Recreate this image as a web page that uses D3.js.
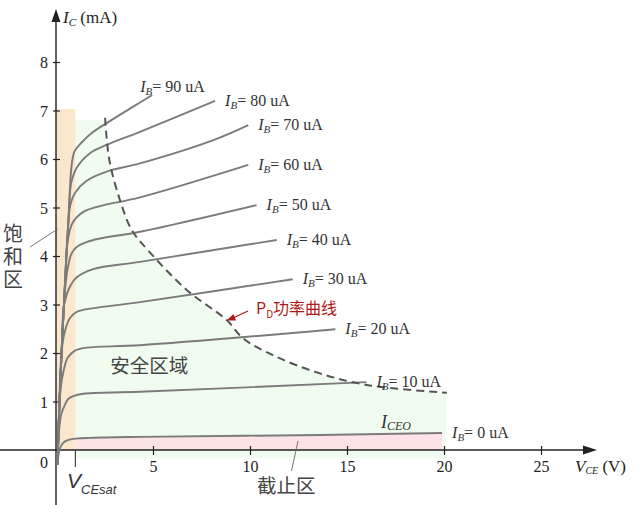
<!DOCTYPE html>
<html><head><meta charset="utf-8">
<script src="https://cdn.jsdelivr.net/npm/d3@7"></script>
<style>body{margin:0;background:#fff}svg{display:block}</style>
</head><body><svg id="c" width="635" height="505"></svg>
<script>
// ---- data (V_CE in volts, I_C in mA) ----
const xTicks = [5, 10, 15, 20, 25];
const yTicks = [1, 2, 3, 4, 5, 6, 7, 8];
const ibNames = ["0", "10", "20", "30", "40", "50", "60", "70", "80", "90"];
const ib0  = [[0.07,-0.31],[0.13,-0.1],[0.21,0.04],[0.36,0.14],[0.57,0.2],[0.89,0.23],[1.75,0.25],[4.33,0.27],[13.6,0.31],[19.9,0.35]];
const ib10 = [[0.07,-0.31],[0.1,0],[0.17,0.45],[0.28,0.75],[0.46,0.93],[0.62,1.05],[0.89,1.11],[1.41,1.16],[4.33,1.2],[16.0,1.4]];
const ib20 = [[0.07,-0.31],[0.1,0],[0.15,0.66],[0.25,1.3],[0.39,1.63],[0.6,1.9],[0.98,2.05],[1.58,2.11],[4.33,2.16],[14.4,2.49]];
const ib30 = [[0.07,-0.31],[0.1,0],[0.15,0.66],[0.29,2.03],[0.46,2.45],[0.72,2.72],[1.03,2.84],[1.41,2.89],[4.33,3.05],[12.2,3.52]];
const ib40 = [[0.07,-0.31],[0.1,0],[0.15,0.66],[0.29,2.03],[0.42,3.0],[0.72,3.37],[1.07,3.56],[1.92,3.73],[4.33,3.88],[11.38,4.33]];
const ib50 = [[0.07,-0.31],[0.1,0],[0.15,0.66],[0.29,2.03],[0.5,3.45],[0.64,3.82],[0.8,4.05],[1.05,4.18],[1.6,4.29],[2.27,4.36],[4.33,4.5],[10.34,5.05]];
const ib60 = [[0.07,-0.31],[0.1,0],[0.15,0.66],[0.29,2.03],[0.46,3.4],[0.6,4.3],[0.85,4.68],[1.41,4.91],[2.27,5.03],[4.33,5.21],[9.91,5.88]];
const ib70 = [[0.07,-0.31],[0.1,0],[0.15,0.66],[0.29,2.03],[0.46,3.4],[0.62,4.6],[0.75,5.07],[0.98,5.3],[1.58,5.55],[2.61,5.74],[4.33,5.91],[8.11,6.39],[9.91,6.7]];
const ib80 = [[0.07,-0.31],[0.1,0],[0.15,0.66],[0.29,2.03],[0.46,3.4],[0.64,4.7],[0.78,5.5],[1.07,5.82],[1.75,6.12],[2.61,6.29],[4.33,6.56],[8.2,7.2]];
const ib90 = [[0.07,-0.31],[0.1,0],[0.15,0.66],[0.29,2.03],[0.46,3.4],[0.66,4.9],[0.8,5.85],[0.95,6.15],[1.3,6.33],[1.92,6.56],[2.61,6.74],[3.98,7.08],[4.96,7.32]];
const pdCurve = [[2.53,6.85],[2.75,5.98],[3.3,5.15],[3.9,4.54],[4.74,4.12],[6.74,3.3],[8.8,2.68],[9.65,2.3],[11.37,1.92],[13.6,1.58],[16.03,1.34],[20.15,1.18]];
const vceSat = 1;          // V
const satTop = 7.03;       // mA
const safeTop = 6.8;       // mA
const safeRight = 20.1;    // V
const safeBottom = -0.17;  // mA

const curves = [ib0, ib10, ib20, ib30, ib40, ib50, ib60, ib70, ib80, ib90];

// ---- drawing ----
const svg = d3.select("#c");
const x = d3.scaleLinear().domain([0, 25]).range([56, 541]);
const y = d3.scaleLinear().domain([0, 8]).range([450, 62]);
const serif = "'Liberation Serif','Times New Roman',serif";
const cjk = "'Noto Sans CJK SC','Noto Sans',sans-serif";
const smooth = d3.curveCatmullRom.alpha(0.5);

const line = d3.line().x(d => x(d[0])).y(d => y(d[1])).curve(smooth);

// safe area (green)
const pdPath = line(pdCurve).replace(/^M/, "L");
const safeD = `M${x(vceSat)},${y(safeTop)}L${x(pdCurve[0][0]) - 2},${y(safeTop)}` + pdPath +
  `L${x(safeRight)},${y(pdCurve[pdCurve.length-1][1])}L${x(safeRight)},${y(safeBottom)}L${x(vceSat)},${y(safeBottom)}Z`;
svg.append("path").attr("d", safeD).attr("fill", "#f1fcf0");

// saturation region (orange)
svg.append("rect").attr("x", x(0)).attr("y", y(satTop))
  .attr("width", x(vceSat) - x(0)).attr("height", y(0) - y(satTop)).attr("fill", "#fbe7cc");

// cutoff region (pink) under I_B = 0 curve
const ib0Cut = ib0.filter(d => d[0] >= vceSat);
const pinkData = [[vceSat, 0.23]].concat(ib0Cut);
svg.append("path")
  .attr("d", d3.area().x(d => x(d[0])).y0(y(0)).y1(d => y(d[1])).curve(d3.curveMonotoneX)(pinkData))
  .attr("fill", "#fde3e5");

// axes ticks via d3 axes
const gx = svg.append("g").attr("transform", `translate(0,${y(0)})`)
  .call(d3.axisBottom(x).tickValues(xTicks).tickSize(5).tickPadding(6));
gx.attr("font-family", serif).attr("font-size", 16);
gx.select(".domain").remove();
gx.selectAll(".tick line").attr("y1", -4).attr("y2", 5).attr("stroke", "#222").attr("stroke-width", 1.2);
gx.selectAll(".tick text").attr("fill", "#222");

const gy = svg.append("g").attr("transform", `translate(${x(0)},0)`)
  .call(d3.axisLeft(y).tickValues(yTicks).tickSize(3).tickPadding(5));
gy.attr("font-family", serif).attr("font-size", 16);
gy.select(".domain").remove();
gy.selectAll(".tick line").attr("x1", -3).attr("x2", 4).attr("stroke", "#222").attr("stroke-width", 1.2);
gy.selectAll(".tick text").attr("fill", "#222").attr("dy", "0.36em");

// origin label
svg.append("text").attr("x", x(0) - 12).attr("y", y(0) + 18).attr("text-anchor", "middle")
  .attr("font-family", serif).attr("font-size", 16).attr("fill", "#222").text("0");

// axis lines + arrows
svg.append("line").attr("x1", 0).attr("x2", 588).attr("y1", y(0)).attr("y2", y(0)).attr("stroke", "#222").attr("stroke-width", 1.4);
svg.append("path").attr("d", `M597,${y(0)}L583,${y(0)-4.5}L583,${y(0)+4.5}Z`).attr("fill", "#222");
svg.append("line").attr("x1", x(0)).attr("x2", x(0)).attr("y1", 505).attr("y2", 18).attr("stroke", "#222").attr("stroke-width", 1.4);
svg.append("path").attr("d", `M${x(0)},9L${x(0)-4.5},22L${x(0)+4.5},22Z`).attr("fill", "#222");

// V_CEsat tick
svg.append("line").attr("x1", x(vceSat)).attr("x2", x(vceSat)).attr("y1", y(0)).attr("y2", y(0) + 17)
  .attr("stroke", "#444").attr("stroke-width", 1.2);

// characteristic curves
svg.append("g").selectAll("path").data(curves).join("path")
  .attr("d", line).attr("fill", "none").attr("stroke", "#7b7b7b").attr("stroke-width", 1.9);

// power dissipation dashed curve
svg.append("path").attr("d", line(pdCurve)).attr("fill", "none").attr("stroke", "#555")
  .attr("stroke-width", 2).attr("stroke-dasharray", "8,5");

// IB labels
curves.forEach((c, i) => {
  const e = c[c.length - 1];
  let lx = x(e[0]) + 10, ly = y(e[1]) + 5;
  if (i === curves.length - 1) { lx = x(e[0]) - 12; ly = y(e[1]) - 3; }
  const t = svg.append("text").attr("x", lx).attr("y", ly).attr("font-family", serif)
    .attr("font-size", 16).attr("fill", "#333");
  t.append("tspan").attr("font-style", "italic").text("I");
  t.append("tspan").attr("font-style", "italic").attr("font-size", 11).attr("dy", 3).text("B");
  t.append("tspan").attr("dy", -3).text("= " + ibNames[i] + " uA");
});

// I_CEO label
{
  const t = svg.append("text").attr("x", 381).attr("y", 428).attr("font-family", serif).attr("fill", "#333");
  t.append("tspan").attr("font-style", "italic").attr("font-size", 18).text("I");
  t.append("tspan").attr("font-style", "italic").attr("font-size", 12).attr("dy", 2).text("CEO");
}

// axis titles
{
  const t = svg.append("text").attr("x", 63).attr("y", 23).attr("font-family", serif).attr("font-size", 17).attr("fill", "#222");
  t.append("tspan").attr("font-style", "italic").text("I");
  t.append("tspan").attr("font-style", "italic").attr("font-size", 11).attr("dy", 3).text("C");
  t.append("tspan").attr("dy", -3).text(" (mA)");
  const v = svg.append("text").attr("x", 575).attr("y", 472).attr("font-family", serif).attr("font-size", 17).attr("fill", "#222");
  v.append("tspan").attr("font-style", "italic").text("V");
  v.append("tspan").attr("font-style", "italic").attr("font-size", 10).attr("dy", 2).text("CE");
  v.append("tspan").attr("dy", -2).text(" (V)");
}

// V_CEsat label
{
  const t = svg.append("text").attr("x", 67).attr("y", 488).attr("font-family", "'Liberation Sans',sans-serif").attr("fill", "#333");
  t.append("tspan").attr("font-style", "italic").attr("font-size", 21).text("V");
  t.append("tspan").attr("font-style", "italic").attr("font-size", 13).attr("dy", 6).text("CEsat");
}

// Chinese region labels (vertical)
svg.append("text").attr("x", 13).attr("y", 223).attr("font-family", cjk).attr("font-size", 20)
  .attr("fill", "#444").style("writing-mode", "vertical-rl").attr("letter-spacing", 3).text("饱和区");
svg.append("line").attr("x1", 30).attr("y1", 247).attr("x2", x(0.1)).attr("y2", y(4.56))
  .attr("stroke", "#666").attr("stroke-width", 0.9);

svg.append("text").attr("x", x(2.8)).attr("y", 373).attr("font-family", cjk)
  .attr("font-size", 19.5).attr("fill", "#444").text("安全区域");

svg.append("text").attr("x", 257).attr("y", 493).attr("font-family", cjk)
  .attr("font-size", 19.5).attr("fill", "#444").text("截止区");
svg.append("line").attr("x1", 291.5).attr("y1", 471).attr("x2", 298).attr("y2", 441)
  .attr("stroke", "#666").attr("stroke-width", 0.9);

// PD label + arrow
{
  const red = "#b01818";
  const t = svg.append("text").attr("x", 256).attr("y", 314).attr("font-family", cjk).attr("fill", red).attr("font-size", 16);
  t.append("tspan").text("P");
  t.append("tspan").attr("font-size", 10).attr("dy", 4).text("D");
  t.append("tspan").attr("dy", -4).text("功率曲线");
  svg.append("line").attr("x1", 248).attr("y1", 311).attr("x2", 233).attr("y2", 318)
    .attr("stroke", red).attr("stroke-width", 1.3);
  svg.append("path").attr("d", "M226.5,320.5L233.5,314L236,320.5Z").attr("fill", red);
}
</script></body></html>
